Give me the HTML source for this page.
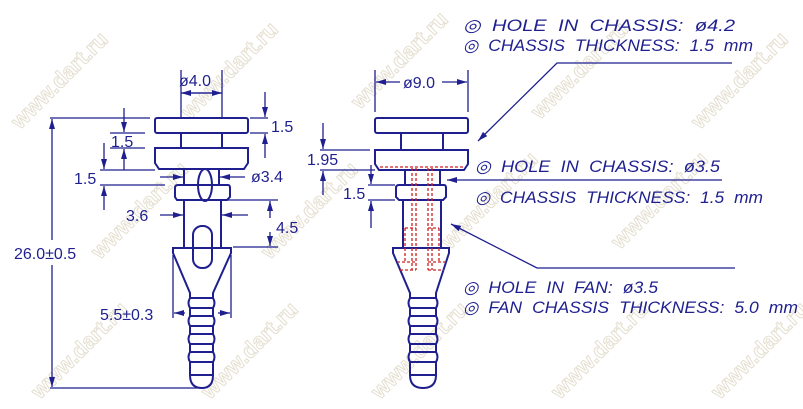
<!DOCTYPE html>
<html><head><meta charset="utf-8"><style>
html,body{margin:0;padding:0;background:#fff;width:803px;height:409px;overflow:hidden}
svg{display:block}
text{font-family:"Liberation Sans",sans-serif;fill:#1f1f8f}
.w text{font-size:22px;fill:none;stroke:#e4dfd0;stroke-width:1;font-weight:bold}
</style></head><body>
<svg width="803" height="409" viewBox="0 0 803 409" xmlns="http://www.w3.org/2000/svg">
<defs><marker id="a" markerWidth="10" markerHeight="6" refX="10" refY="3" orient="auto" markerUnits="userSpaceOnUse"><path d="M0,0 L10,3 L0,6z" fill="#1f1f8f"/></marker></defs>
<g class="w">
<text transform="translate(20,130) rotate(-45)">www.dart.ru</text>
<text transform="translate(190,120) rotate(-45)">www.dart.ru</text>
<text transform="translate(360,110) rotate(-45)">www.dart.ru</text>
<text transform="translate(540,120) rotate(-45)">www.dart.ru</text>
<text transform="translate(700,130) rotate(-45)">www.dart.ru</text>
<text transform="translate(100,260) rotate(-45)">www.dart.ru</text>
<text transform="translate(270,260) rotate(-45)">www.dart.ru</text>
<text transform="translate(450,250) rotate(-45)">www.dart.ru</text>
<text transform="translate(620,250) rotate(-45)">www.dart.ru</text>
<text transform="translate(40,400) rotate(-45)">www.dart.ru</text>
<text transform="translate(210,400) rotate(-45)">www.dart.ru</text>
<text transform="translate(380,400) rotate(-45)">www.dart.ru</text>
<text transform="translate(560,400) rotate(-45)">www.dart.ru</text>
<text transform="translate(720,400) rotate(-45)">www.dart.ru</text>
</g>
<g fill="none" stroke="#1f1f8f" stroke-width="1.3">
<g stroke-width="2">
<rect x="155" y="118" width="93" height="15" rx="2"/>
<line x1="181" y1="133" x2="181" y2="148"/><line x1="222" y1="133" x2="222" y2="148"/>
<path d="M155,148 H248 V163 L244,169 H159 L155,163Z"/>
<line x1="184" y1="169" x2="184" y2="185"/><line x1="219" y1="169" x2="219" y2="185"/>
<ellipse cx="205" cy="185" rx="7" ry="16"/>
<path d="M178,185 H228 Q230,185 230,188 V197 L227,200 H177 L175,197 V188 Q175,185 178,185Z"/>
<line x1="184" y1="200" x2="184" y2="247"/><line x1="221" y1="200" x2="221" y2="247"/>
<rect x="193" y="226" width="19" height="42" rx="9"/>
<path d="M173,248 H231 V253 L213,293 V298 Q216,303 213,308 V316 Q216,321 213,326 V334 Q216,339 213,344 V352 Q216,357 213,362 V375 Q213,388 202,388 Q190,388 190,375 V362 Q187,357 190,352 V344 Q187,339 190,334 V326 Q187,321 190,316 V308 Q187,303 190,298 V293 L173,253Z"/>
<path d="M190,298 H213 M190,308 H213 M190,316 H213 M190,326 H213 M190,334 H213 M190,344 H213 M190,352 H213 M190,362 H213 M190,375 H213"/>
</g>
<line x1="181" y1="70" x2="181" y2="118"/><line x1="222" y1="70" x2="222" y2="118"/>
<line x1="181" y1="93" x2="222" y2="93" marker-end="url(#a)"/><line x1="222" y1="93" x2="181" y2="93" marker-end="url(#a)"/>
<line x1="50" y1="118" x2="150" y2="118"/><line x1="50" y1="388" x2="200" y2="388"/>
<line x1="52" y1="240" x2="52" y2="119" marker-end="url(#a)"/><line x1="52" y1="265" x2="52" y2="387" marker-end="url(#a)"/>
<line x1="250" y1="118" x2="268" y2="118"/><line x1="250" y1="133" x2="268" y2="133"/>
<line x1="265" y1="92" x2="265" y2="117" marker-end="url(#a)"/><line x1="265" y1="158" x2="265" y2="134" marker-end="url(#a)"/>
<line x1="110" y1="133" x2="145" y2="133"/><line x1="110" y1="148" x2="145" y2="148"/>
<line x1="124" y1="108" x2="124" y2="132" marker-end="url(#a)"/><line x1="124" y1="170" x2="124" y2="149" marker-end="url(#a)"/>
<line x1="100" y1="170" x2="155" y2="170"/><line x1="100" y1="185" x2="165" y2="185"/>
<line x1="104" y1="143" x2="104" y2="169" marker-end="url(#a)"/><line x1="104" y1="210" x2="104" y2="186" marker-end="url(#a)"/>
<line x1="160" y1="177" x2="183" y2="177" marker-end="url(#a)"/><line x1="245" y1="177" x2="220" y2="177" marker-end="url(#a)"/>
<line x1="160" y1="215" x2="183" y2="215" marker-end="url(#a)"/><line x1="248" y1="215" x2="222" y2="215" marker-end="url(#a)"/>
<line x1="223" y1="200" x2="278" y2="200"/><line x1="233" y1="247" x2="278" y2="247"/>
<line x1="270" y1="218" x2="270" y2="201" marker-end="url(#a)"/><line x1="270" y1="232" x2="270" y2="246" marker-end="url(#a)"/>
<line x1="173" y1="255" x2="173" y2="318"/><line x1="231" y1="255" x2="231" y2="318"/>
<line x1="185" y1="313" x2="174" y2="313" marker-end="url(#a)"/><line x1="218" y1="313" x2="230" y2="313" marker-end="url(#a)"/>
<g stroke-width="2">
<rect x="375" y="118" width="93" height="15" rx="2"/>
<line x1="401" y1="133" x2="401" y2="150"/><line x1="443" y1="133" x2="443" y2="150"/>
<path d="M375,150 H468 V164 L464,170 H379 L375,164Z"/>
<line x1="405" y1="170" x2="405" y2="185"/><line x1="440" y1="170" x2="440" y2="185"/>
<path d="M399,185 H444 Q446,185 446,188 V197 L443,200 H399 L396,197 V188 Q396,185 399,185Z"/>
<line x1="403" y1="200" x2="403" y2="247"/><line x1="441" y1="200" x2="441" y2="247"/>
<path d="M393,248 H449 V253 L436,293 V298 Q439,303 436,308 V316 Q439,321 436,326 V334 Q439,339 436,344 V352 Q439,357 436,362 V375 Q436,388 423,388 Q410,388 410,375 V362 Q407,357 410,352 V344 Q407,339 410,334 V326 Q407,321 410,316 V308 Q407,303 410,298 V293 L393,253Z"/>
<path d="M410,298 H436 M410,308 H436 M410,316 H436 M410,326 H436 M410,334 H436 M410,344 H436 M410,352 H436 M410,362 H436 M410,375 H436"/>
</g>
<g stroke="#d02020" stroke-dasharray="3,2" stroke-width="1.3">
<line x1="380" y1="167" x2="464" y2="167"/>
<path d="M412,168 V270 M416,168 V270 M428,168 V270 M432,168 V270"/>
<path d="M405,228 H416 M428,228 H439 M405,228 V262 M439,228 V262 M397,262 H416 M428,262 H447 M400,270 H416 M428,270 H444"/>
</g>
<line x1="375" y1="70" x2="375" y2="112"/><line x1="468" y1="70" x2="468" y2="112"/>
<line x1="400" y1="82" x2="376" y2="82" marker-end="url(#a)"/><line x1="442" y1="82" x2="467" y2="82" marker-end="url(#a)"/>
<line x1="320" y1="150" x2="370" y2="150"/><line x1="320" y1="170" x2="375" y2="170"/>
<line x1="323" y1="123" x2="323" y2="149" marker-end="url(#a)"/><line x1="323" y1="195" x2="323" y2="171" marker-end="url(#a)"/>
<line x1="368" y1="185" x2="395" y2="185"/><line x1="368" y1="200" x2="395" y2="200"/>
<line x1="371" y1="165" x2="371" y2="184" marker-end="url(#a)"/><line x1="371" y1="228" x2="371" y2="201" marker-end="url(#a)"/>
<polyline points="732,63 557,63 478,141" marker-end="url(#a)"/>
<line x1="722" y1="180" x2="447" y2="180" marker-end="url(#a)"/>
<polyline points="735,268 537,268 451,224" marker-end="url(#a)"/>
</g>
<g font-size="16">
<text x="179" y="86">ø4.0</text>
<text x="271" y="132">1.5</text>
<text x="111" y="147">1.5</text>
<text x="74" y="184">1.5</text>
<text x="251" y="182">ø3.4</text>
<text x="126" y="221">3.6</text>
<text x="276" y="233">4.5</text>
<text x="14" y="259">26.0±0.5</text>
<text x="100" y="320">5.5±0.3</text>
<text x="403" y="88">ø9.0</text>
<text x="307" y="165">1.95</text>
<text x="343" y="199">1.5</text>
</g>
<g font-size="17" font-style="italic" word-spacing="5">
<text x="463" y="31" textLength="272" lengthAdjust="spacingAndGlyphs">◎ HOLE IN CHASSIS: ø4.2</text>
<text x="463" y="51" textLength="290" lengthAdjust="spacingAndGlyphs">◎ CHASSIS THICKNESS: 1.5 mm</text>
<text x="475" y="172" textLength="245" lengthAdjust="spacingAndGlyphs">◎ HOLE IN CHASSIS: ø3.5</text>
<text x="475" y="203" textLength="288" lengthAdjust="spacingAndGlyphs">◎ CHASSIS THICKNESS: 1.5 mm</text>
<text x="463" y="293" textLength="195" lengthAdjust="spacingAndGlyphs">◎ HOLE IN FAN: ø3.5</text>
<text x="463" y="313" textLength="335" lengthAdjust="spacingAndGlyphs">◎ FAN CHASSIS THICKNESS: 5.0 mm</text>
</g>
</svg>
</body></html>
